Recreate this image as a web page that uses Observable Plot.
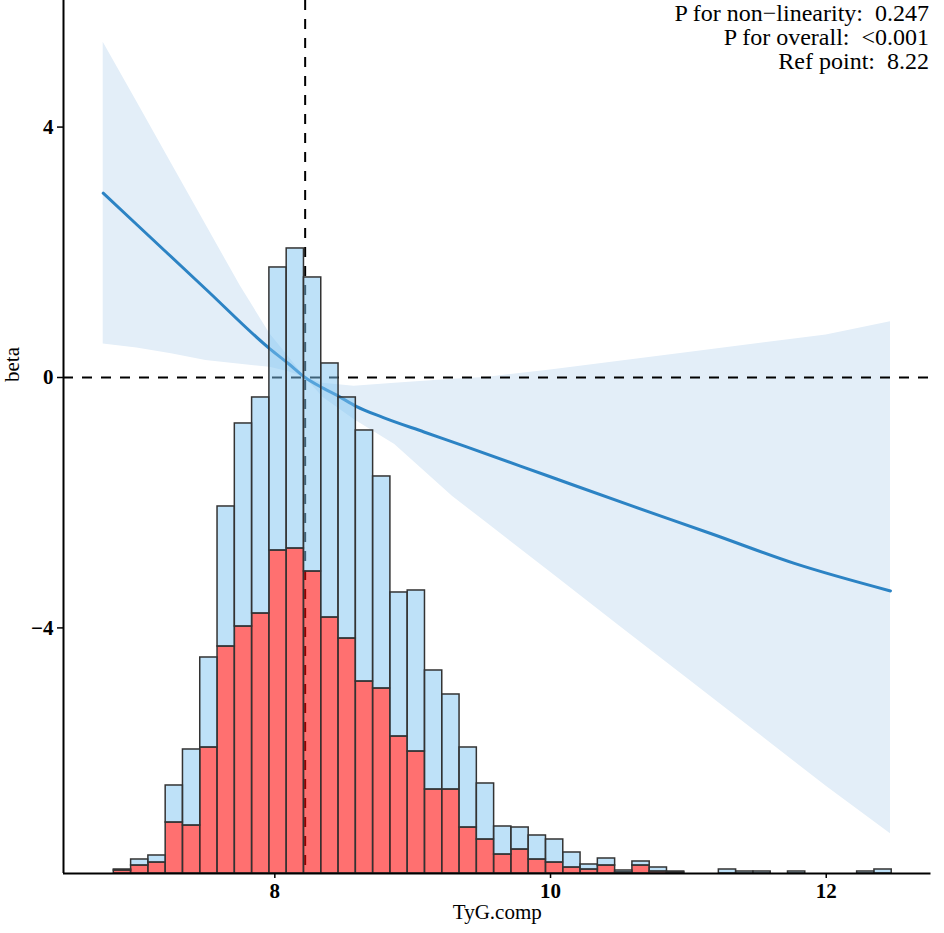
<!DOCTYPE html>
<html>
<head>
<meta charset="utf-8">
<script src="https://cdn.jsdelivr.net/npm/d3@7"></script>
<script src="https://cdn.jsdelivr.net/npm/@observablehq/plot@0.6"></script>
<style>
  html, body { margin: 0; padding: 0; background: #fff; }
  #chart svg { display: block; }
  #chart svg g[aria-label="x-axis tick label"] text,
  #chart svg g[aria-label="y-axis tick label"] text {
    font-size: 21px !important;
    font-weight: bold !important;
    font-family: 'Liberation Serif', 'Times New Roman', serif !important;
  }
</style>
</head>
<body>
<div id="chart"></div>
<script>
// ---------- data ----------
// histogram bins (TyG.comp), 46 bins of equal width
const binStart = 6.7066;
const binWidth = 0.1254;
// total count per bin and the red (sub-group) count per bin, in display units
const countTotal = [0, 4, 14, 18, 88, 124, 216, 367, 450, 476, 606, 625, 596, 510, 476, 443, 397, 281, 283, 203, 179, 126, 90, 47, 46, 38, 34, 21, 9, 15, 3, 12, 6, 2, 0, 0, 4, 2, 2, 0, 2, 0, 0, 0, 2, 4];
const countRed   = [0, 3,  8, 11, 51,  48, 126, 227, 247, 260, 323, 325, 302, 256, 235, 192, 185, 137, 122,  84,  84, 46, 34, 19, 24, 14, 11,  6, 4,  8, 1,  8, 2, 1, 0, 0, 0, 0, 0, 0, 0, 0, 0, 0, 0, 0];

// spline estimate of beta
const splineX    = [6.755, 7.0, 7.5, 7.964, 8.1, 8.22, 8.35, 8.455, 8.59, 8.783, 9.082, 9.381, 9.978, 10.575, 11.172, 11.769, 12.466];
const splineBeta = [2.944, 2.44, 1.41, 0.458, 0.22, 0, -0.17, -0.29, -0.46, -0.637, -0.87, -1.10, -1.57, -2.04, -2.50, -2.97, -3.41];

// 95% confidence band
const ciX     = [6.755, 7.0, 7.25, 7.5, 7.75, 7.964, 8.1, 8.22, 8.35, 8.575, 8.87, 9.29, 9.53, 10.0, 10.5, 11.0, 12.0, 12.466];
const ciLower = [0.537, 0.47, 0.38, 0.27, 0.21, 0.165, 0.09, 0, -0.32, -0.67, -1.07, -1.90, -2.31, -3.11, -3.97, -4.82, -6.53, -7.29];
const ciUpper = [5.356, 4.40, 3.42, 2.44, 1.46, 0.70, 0.33, 0, -0.09, -0.14, -0.09, -0.03, 0.0, 0.12, 0.26, 0.40, 0.68, 0.89];

const xTicks = [8, 10, 12];
const yTicks = [-4, 0, 4];
const refPoint = 8.22;
const annotationLines = ["P for non\u2212linearity:  0.247", "P for overall:  <0.001", "Ref point:  8.22"];

// ---------- scales ----------
const xDomain = [6.467, 12.76];
const yDomain = [-7.923, 6.022];
const betaPerCount = 1 / 62.6;   // histogram rescaled onto the beta axis
const histBase = yDomain[0];

// ---------- tables ----------
const bins = countTotal.map((t, i) => ({
  x1: binStart + i * binWidth,
  x2: binStart + (i + 1) * binWidth,
  total: t,
  red: countRed[i]
}));
const redBars = bins.filter(d => d.red > 0).map(d => ({
  x1: d.x1, x2: d.x2, y1: histBase, y2: histBase + d.red * betaPerCount
}));
const blueBars = bins.filter(d => d.total > d.red).map(d => ({
  x1: d.x1, x2: d.x2, y1: histBase + d.red * betaPerCount, y2: histBase + d.total * betaPerCount
}));
const spline = splineX.map((x, i) => ({x, y: splineBeta[i]}));
const band = ciX.map((x, i) => ({x, lo: ciLower[i], hi: ciUpper[i]}));
const ann = annotationLines.map((t, i) => ({t, i}));

const font = "'Liberation Serif', 'Times New Roman', serif";
const minusFmt = d => d < 0 ? "\u2212" + Math.abs(d) : String(d);

const chart = Plot.plot({
  width: 944,
  height: 933,
  marginLeft: 63,
  marginRight: 13.5,
  marginTop: 0,
  marginBottom: 60,
  style: {fontFamily: font, fontSize: "20px", color: "black", background: "white"},
  x: {domain: xDomain},
  y: {domain: yDomain},
  marks: [
    Plot.areaY(band, {x: "x", y1: "lo", y2: "hi", fill: "#E3EEF8", curve: "linear"}),
    Plot.line(spline, {x: "x", y: "y", stroke: "#2C83C4", strokeWidth: 3, curve: "monotone-x"}),
    Plot.ruleY([0], {stroke: "black", strokeWidth: 2, strokeDasharray: "10,9"}),
    Plot.ruleX([refPoint], {stroke: "black", strokeWidth: 2, strokeDasharray: "10,9"}),
    Plot.rect(redBars, {x1: "x1", x2: "x2", y1: "y1", y2: "y2", fill: "#FF0000", fillOpacity: 0.56, stroke: "#333333", strokeWidth: 1.5}),
    Plot.rect(blueBars, {x1: "x1", x2: "x2", y1: "y1", y2: "y2", fill: "#7DC3F1", fillOpacity: 0.5, stroke: "#333333", strokeWidth: 1.5}),
    Plot.ruleX([xDomain[0]], {stroke: "black", strokeWidth: 2}),
    Plot.ruleY([yDomain[0]], {stroke: "black", strokeWidth: 2}),
    Plot.axisX({ticks: xTicks, tickSize: 5, tickPadding: 5, label: null, tickFormat: minusFmt, stroke: "black", strokeWidth: 1.5}),
    Plot.axisY({ticks: yTicks, tickSize: 6, tickPadding: 4, label: null, tickFormat: minusFmt, stroke: "black", strokeWidth: 1.5}),
    Plot.text(["TyG.comp"], {frameAnchor: "bottom", dy: 39, lineAnchor: "middle", fontSize: 21, fill: "black"}),
    Plot.text(["beta"], {frameAnchor: "left", dx: -51, dy: -55, rotate: -90, fontSize: 21, fill: "black"}),
    Plot.text(ann.filter(d => d.i === 0), {text: "t", frameAnchor: "top-right", textAnchor: "end", lineAnchor: "bottom", dx: -2, dy: 20, fontSize: 24, fill: "black"}),
    Plot.text(ann.filter(d => d.i === 1), {text: "t", frameAnchor: "top-right", textAnchor: "end", lineAnchor: "bottom", dx: -2, dy: 44, fontSize: 24, fill: "black"}),
    Plot.text(ann.filter(d => d.i === 2), {text: "t", frameAnchor: "top-right", textAnchor: "end", lineAnchor: "bottom", dx: -2, dy: 68, fontSize: 24, fill: "black"})
  ]
});
document.getElementById("chart").appendChild(chart);
</script>
</body>
</html>
